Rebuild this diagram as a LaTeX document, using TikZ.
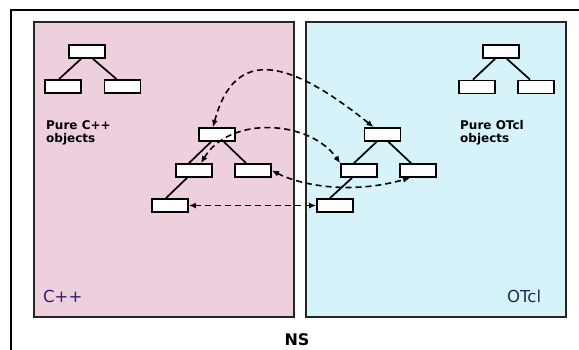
\documentclass[tikz,border=0pt]{standalone}
\usepackage{fontspec}
\setmainfont{DejaVu Sans}
\usetikzlibrary{arrows.meta,positioning,calc}
\definecolor{cppbg}{HTML}{EDCFDD}
\definecolor{tclbg}{HTML}{D6F3FA}
\definecolor{cpptxt}{HTML}{2D1B6E}
\definecolor{tcltxt}{HTML}{1B2A5C}
\tikzset{
  panel/.style = {draw=black!85, line width=2pt},
  obj/.style   = {draw=black, fill=white, line width=1.8pt, minimum width=36pt,
                  minimum height=13pt, inner sep=0pt},
  lnk/.style   = {line width=1.7pt},
  ar/.style    = {{Latex[length=7pt,width=6pt]}-{Latex[length=7pt,width=6pt]},
                  dash pattern=on 6pt off 4pt, line width=1.6pt},
  lbl/.style   = {font=\fontsize{12}{13.5}\selectfont\bfseries, align=left,
                  inner sep=0pt, anchor=north west},
  side/.style  = {font=\fontsize{16.5}{18}\selectfont, inner sep=0pt, anchor=base west},
}
\begin{document}
\begin{tikzpicture}[x=1pt,y=-1pt]
  \useasboundingbox (0,0) rectangle (579,349);
  \draw[line width=1.6pt] (11,10) rectangle (590,360);
  % the two worlds
  \draw[panel, fill=cppbg] (34,22) rectangle (294,317);
  \draw[panel, fill=tclbg] (306,22) rectangle (566,317);
  \node[side, text=cpptxt] (cpp) at (43,302) {C++};
  \node[side, text=tcltxt] (tcl) at (507,302) {OTcl};
  \node[font=\fontsize{16}{18}\selectfont\bfseries, inner sep=0pt, anchor=base] (ns) at (297,345) {NS};

  % pure objects
  \node[obj] (pcRoot) at (87,51.5) {};
  \node[obj] (pcL) at (63,86.5) {};
  \node[obj] (pcR) at (122.5,86.5) {};
  \draw[lnk] ([xshift=-6pt]pcRoot.south) -- ([xshift=-4pt]pcL.north);
  \draw[lnk] ([xshift=6pt]pcRoot.south) -- ([xshift=-6pt]pcR.north);
  \node[lbl] (pcTxt) at (46,120) {Pure C++\\objects};

  \node[obj] (ptRoot) at (501,51.5) {};
  \node[obj] (ptL) at (477,87) {};
  \node[obj] (ptR) at (536,87) {};
  \draw[lnk] ([xshift=-6pt]ptRoot.south) -- ([xshift=-4pt]ptL.north);
  \draw[lnk] ([xshift=6pt]ptRoot.south) -- ([xshift=-6pt]ptR.north);
  \node[lbl] (ptTxt) at (460,120) {Pure OTcl\\objects};

  % split objects
  \node[obj] (cRoot) at (217,134.5) {};
  \node[obj] (cL) at (194,170.5) {};
  \node[obj] (cR) at (253,170.5) {};
  \node[obj] (cG) at (170,205.5) {};
  \draw[lnk] ([xshift=-6pt]cRoot.south) -- ([xshift=-5pt]cL.north);
  \draw[lnk] ([xshift=7pt]cRoot.south) -- ([xshift=-7pt]cR.north);
  \draw[lnk] ([xshift=-7pt]cL.south) -- ([xshift=-4pt]cG.north);

  \node[obj] (oRoot) at (382.5,134.5) {};
  \node[obj] (oL) at (359,170.5) {};
  \node[obj] (oR) at (418,170.5) {};
  \node[obj] (oG) at (335,205.5) {};
  \draw[lnk] ([xshift=-6pt]oRoot.south) -- ([xshift=-5pt]oL.north);
  \draw[lnk] ([xshift=6pt]oRoot.south) -- ([xshift=-7pt]oR.north);
  \draw[lnk] ([xshift=-7pt]oL.south) -- ([xshift=-5pt]oG.north);

  \draw[ar] ([xshift=-4pt]cRoot.north) .. controls (235,45) and (290,60) .. ([xshift=-9pt]oRoot.north);
  \draw[ar] ([xshift=7pt]cL.north) .. controls (230,115) and (310,120) .. (oL.north west);
  \draw[ar] (cR.east) .. controls (300,185) and (350,195) .. ([xshift=-8pt]oR.south);
  \draw[ar] (cG.east) -- (oG.west);
\end{tikzpicture}
\end{document}
